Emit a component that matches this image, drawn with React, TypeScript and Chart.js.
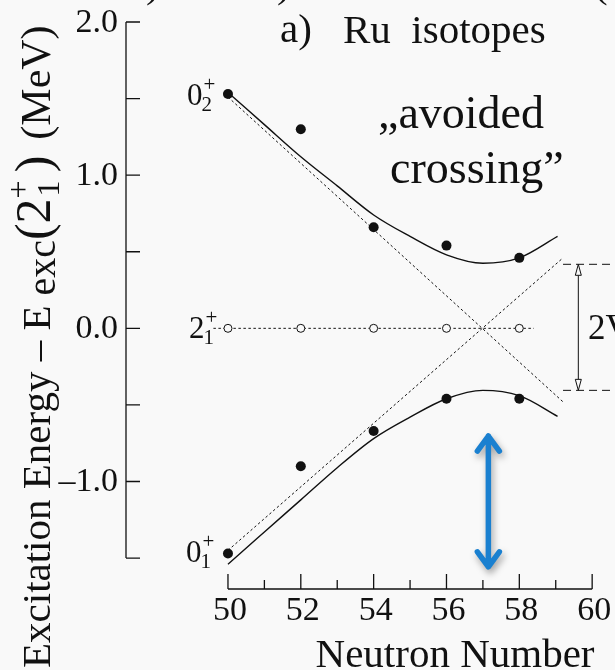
import React, { useEffect, useRef } from "react";
import { Chart, registerables } from "chart.js";

Chart.register(...registerables);

// ---------- data ----------
const neutronNumbers = [50, 52, 54, 56, 58];
const e02Values = [1.53, 1.3, 0.66, 0.54, 0.46];
const e01Values = [-1.47, -0.9, -0.67, -0.46, -0.46];
const e21Values = [0, 0, 0, 0, 0];

const curveN = [50, 51, 52, 53, 54, 55, 56, 57, 58, 59.05];
const upperCurve = [1.54, 1.33, 1.12, 0.93, 0.74, 0.6, 0.48, 0.425, 0.46, 0.6];
const lowerCurve = [-1.54, -1.33, -1.12, -0.91, -0.72, -0.58, -0.46, -0.405, -0.44, -0.575];

const unperturbedN = [50, 59.2];
const unperturbedUpper = [1.51, -0.48];
const unperturbedLower = [-1.45, 0.46];

const referenceN = [49.6, 58.4];
const referenceE = [0, 0];

const bandN = [59.2, 60.5];
const bandUpper = 0.418;
const bandLower = -0.405;

const blueArrowN = 57.15;
const blueArrowE = [-0.69, -1.57];

const xMajorTicks = [50, 52, 54, 56, 58, 60];
const xMinorTicks = [51, 53, 55, 57, 59];
const yTickMarks = [2.0, 1.5, 1.0, 0.5, 0.0, -0.5, -1.0, -1.5];
const yTickLabels = [2.0, 1.0, 0.0, -1.0];

const xMin = 47.2;
const xMax = 60.49;
const yMin = -1.702;
const yMax = 2.0;

const SERIF = '"Liberation Serif", "Times New Roman", serif';
const BG = "#f9f9f9";
const INK = "#111111";

const pts = (xs: number[], ys: number[]) => xs.map((x, i) => ({ x, y: ys[i] }));

const decorPlugin = {
  id: "decor",
  beforeDraw(chart: any) {
    const ctx = chart.ctx;
    ctx.save();
    ctx.fillStyle = BG;
    ctx.fillRect(0, 0, chart.width, chart.height);
    ctx.restore();
  },
  afterDatasetsDraw(chart: any) {
    const ctx: CanvasRenderingContext2D = chart.ctx;
    const xs = chart.scales.x;
    const ys = chart.scales.y;
    const px = (v: number) => xs.getPixelForValue(v);
    const py = (v: number) => ys.getPixelForValue(v);
    ctx.save();
    ctx.strokeStyle = INK;
    ctx.fillStyle = INK;
    ctx.lineWidth = 1.3;

    // y axis (detached)
    const ax = chart.chartArea.left;
    ctx.beginPath();
    ctx.moveTo(ax, py(yMax));
    ctx.lineTo(ax, py(-1.5));
    for (const v of yTickMarks) {
      ctx.moveTo(ax, py(v));
      ctx.lineTo(ax + 14, py(v));
    }
    ctx.stroke();
    ctx.font = `34px ${SERIF}`;
    ctx.textAlign = "right";
    ctx.textBaseline = "middle";
    for (const v of yTickLabels) {
      const s = v < 0 ? "\u2013" + Math.abs(v).toFixed(1) : v.toFixed(1);
      ctx.fillText(s, ax - 8, py(v) + 1);
    }

    // x axis (detached)
    const ay = chart.chartArea.bottom;
    ctx.beginPath();
    ctx.moveTo(px(50), ay);
    ctx.lineTo(px(60), ay);
    for (const v of xMajorTicks) {
      ctx.moveTo(px(v), ay);
      ctx.lineTo(px(v), ay - 15);
    }
    for (const v of xMinorTicks) {
      ctx.moveTo(px(v), ay);
      ctx.lineTo(px(v), ay - 9);
    }
    ctx.stroke();
    ctx.textAlign = "center";
    ctx.textBaseline = "alphabetic";
    for (const v of xMajorTicks) {
      ctx.fillText(String(v), px(v) + 2, ay + 31);
    }

    // x title
    ctx.font = `41px ${SERIF}`;
    ctx.textAlign = "center";
    ctx.fillText("Neutron Number", 455, 667);

    // y title (rotated, with sub/superscripts)
    ctx.save();
    ctx.translate(50, 668);
    ctx.rotate(-Math.PI / 2);
    ctx.textAlign = "left";
    ctx.textBaseline = "alphabetic";
    let u = 0;
    const seg = (t: string, size: number, dy: number) => {
      ctx.font = `${size}px ${SERIF}`;
      ctx.fillText(t, u, dy);
      u += ctx.measureText(t).width;
    };
    seg("Excitation Energy \u2013 E", 41, 0);
    u += 10;
    seg("exc", 40, 5);
    seg("(2", 50, 0);
    ctx.font = `32px ${SERIF}`;
    const w1 = ctx.measureText("+").width;
    ctx.fillText("+", u, -21);
    ctx.fillText("1", u + 2, 9);
    u += w1 + 8;
    seg(")", 50, 0);
    u += 16;
    seg("(MeV)", 42, 0);
    ctx.restore();

    // cut-off glyphs at the very top
    ctx.font = `41px ${SERIF}`;
    ctx.textAlign = "left";
    ctx.fillText(")", 146, -3);
    ctx.fillText(")", 277, -3);
    ctx.fillText("(", 594, -3);

    // panel title
    ctx.fillText("a)", 280, 42);
    ctx.fillText("Ru  isotopes", 343, 43);

    // avoided crossing
    ctx.font = `46px ${SERIF}`;
    ctx.fillText("\u201Eavoided", 378, 128);
    ctx.fillText("crossing\u201D", 390, 183);

    // state labels
    const stateLabel = (main: string, sup: string, sub: string, x: number, base: number) => {
      ctx.font = `31px ${SERIF}`;
      ctx.textAlign = "left";
      ctx.fillText(main, x, base);
      const w = ctx.measureText(main).width;
      ctx.font = `21px ${SERIF}`;
      ctx.fillText(sup, x + w + 1, base - 14);
      ctx.fillText(sub, x + w - 1, base + 6);
    };
    stateLabel("0", "+", "2", px(50) - 41, py(1.53) + 11);
    stateLabel("2", "+", "1", px(50) - 39, py(0) + 10);
    stateLabel("0", "+", "1", px(50) - 42, py(-1.47) + 9);

    // 2V double arrow
    const vx = px(59.62);
    const vTop = py(bandUpper);
    const vBot = py(bandLower);
    ctx.lineWidth = 1;
    ctx.beginPath();
    ctx.moveTo(vx, vTop + 11);
    ctx.lineTo(vx, vBot - 11);
    ctx.stroke();
    const openHead = (tipY: number, dir: number) => {
      ctx.beginPath();
      ctx.moveTo(vx, tipY);
      ctx.lineTo(vx - 3, tipY + dir * 11);
      ctx.lineTo(vx + 3, tipY + dir * 11);
      ctx.closePath();
      ctx.fillStyle = BG;
      ctx.fill();
      ctx.stroke();
    };
    openHead(vTop, 1);
    openHead(vBot, -1);
    ctx.fillStyle = INK;
    ctx.font = `35px ${SERIF}`;
    ctx.fillText("2V", 588, 339);

    // blue double arrow
    const bx = px(blueArrowN);
    const bTop = py(blueArrowE[0]);
    const bBot = py(blueArrowE[1]);
    ctx.save();
    ctx.shadowColor = "rgba(0,0,0,0.35)";
    ctx.shadowBlur = 7;
    ctx.shadowOffsetX = 2;
    ctx.shadowOffsetY = 4;
    ctx.strokeStyle = "#1a80d0";
    ctx.lineWidth = 5.5;
    ctx.lineCap = "round";
    ctx.lineJoin = "round";
    ctx.beginPath();
    ctx.moveTo(bx, bTop + 2);
    ctx.lineTo(bx, bBot - 2);
    ctx.moveTo(bx - 11, bTop + 17);
    ctx.lineTo(bx, bTop + 2);
    ctx.lineTo(bx + 11, bTop + 17);
    ctx.moveTo(bx - 11, bBot - 17);
    ctx.lineTo(bx, bBot - 2);
    ctx.lineTo(bx + 11, bBot - 17);
    ctx.stroke();
    ctx.restore();

    ctx.restore();
  },
};

export default function App() {
  const canvasRef = useRef<HTMLCanvasElement | null>(null);

  useEffect(() => {
    const canvas = canvasRef.current;
    if (!canvas) return;
    const dotted = [2.5, 2.5];
    const chart = new Chart(canvas, {
      type: "scatter",
      data: {
        datasets: [
          {
            label: "0+2",
            data: pts(neutronNumbers, e02Values),
            pointRadius: 5,
            pointBackgroundColor: INK,
            pointBorderWidth: 0,
            showLine: false,
            order: 0,
          },
          {
            label: "0+1",
            data: pts(neutronNumbers, e01Values),
            pointRadius: 5,
            pointBackgroundColor: INK,
            pointBorderWidth: 0,
            showLine: false,
            order: 0,
          },
          {
            label: "2+1",
            data: pts(neutronNumbers, e21Values),
            pointRadius: 4,
            pointBackgroundColor: BG,
            pointBorderColor: INK,
            pointBorderWidth: 1,
            showLine: false,
            order: 0,
          },
          {
            label: "reference",
            data: pts(referenceN, referenceE),
            showLine: true,
            borderColor: INK,
            borderWidth: 1,
            borderDash: dotted,
            pointRadius: 0,
            order: 2,
          },
          {
            label: "unperturbed upper",
            data: pts(unperturbedN, unperturbedUpper),
            showLine: true,
            borderColor: INK,
            borderWidth: 1,
            borderDash: dotted,
            pointRadius: 0,
            order: 2,
          },
          {
            label: "unperturbed lower",
            data: pts(unperturbedN, unperturbedLower),
            showLine: true,
            borderColor: INK,
            borderWidth: 1,
            borderDash: dotted,
            pointRadius: 0,
            order: 2,
          },
          {
            label: "mixed upper",
            data: pts(curveN, upperCurve),
            showLine: true,
            borderColor: INK,
            borderWidth: 1.4,
            cubicInterpolationMode: "monotone",
            pointRadius: 0,
            order: 1,
          },
          {
            label: "mixed lower",
            data: pts(curveN, lowerCurve),
            showLine: true,
            borderColor: INK,
            borderWidth: 1.4,
            cubicInterpolationMode: "monotone",
            pointRadius: 0,
            order: 1,
          },
          {
            label: "band upper",
            data: pts(bandN, bandN.map(() => bandUpper)),
            showLine: true,
            borderColor: INK,
            borderWidth: 1,
            borderDash: [8, 5],
            pointRadius: 0,
            order: 2,
          },
          {
            label: "band lower",
            data: pts(bandN, bandN.map(() => bandLower)),
            showLine: true,
            borderColor: INK,
            borderWidth: 1,
            borderDash: [8, 5],
            pointRadius: 0,
            order: 2,
          },
        ],
      },
      options: {
        animation: false,
        responsive: false,
        maintainAspectRatio: false,
        devicePixelRatio: 1,
        layout: { padding: { left: 126, right: 0, top: 22, bottom: 81 } },
        scales: {
          x: { type: "linear", min: xMin, max: xMax, display: false },
          y: { type: "linear", min: yMin, max: yMax, display: false },
        },
        plugins: {
          legend: { display: false },
          tooltip: { enabled: false },
        },
        elements: { line: { tension: 0 } },
      } as any,
      plugins: [decorPlugin],
    });
    return () => chart.destroy();
  }, []);

  return (
    <div style={{ position: "absolute", left: 0, top: 0, width: 615, height: 670 }}>
      <canvas ref={canvasRef} width={615} height={670} style={{ display: "block" }} />
    </div>
  );
}
